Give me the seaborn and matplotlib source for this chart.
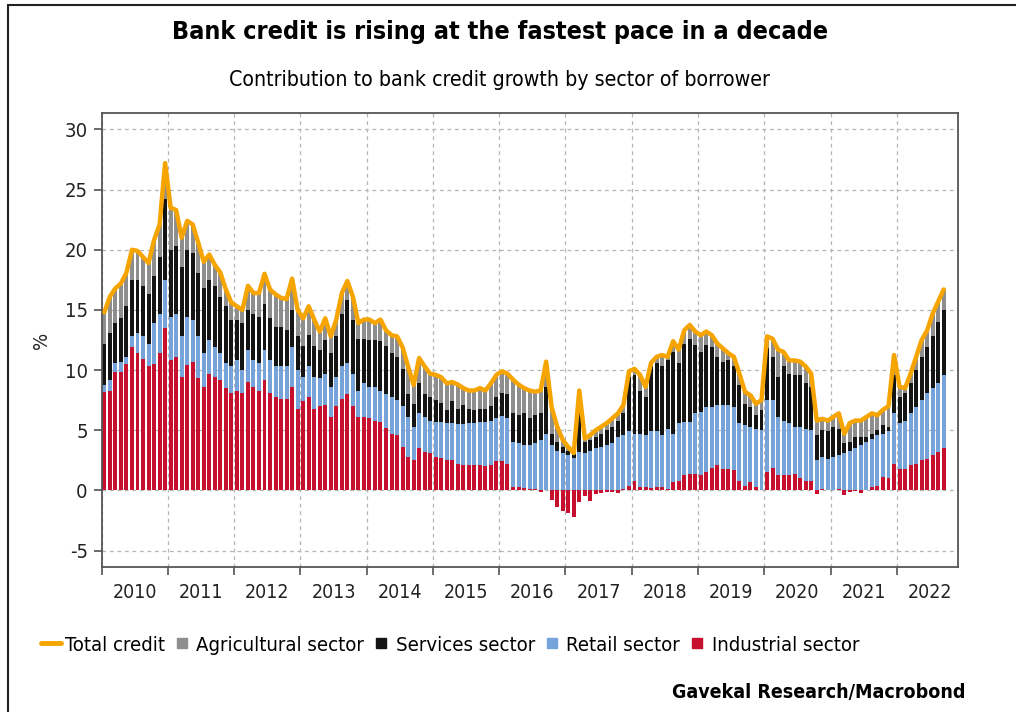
import numpy as np
import matplotlib.pyplot as plt
import seaborn as sns
from matplotlib.lines import Line2D

# monthly values, Jan 2010 .. Sep 2022, one row per year
years = list(range(2010, 2023))

total_credit = [
    14.8, 16.1, 16.8, 17.2, 18.1, 20.0, 19.9, 19.4, 18.9, 20.8, 22.1, 27.2,
    23.5, 23.3, 21.0, 22.4, 22.1, 20.6, 19.0, 19.6, 18.75, 18.1, 16.7, 15.6,
    15.3, 15.0, 17.0, 16.4, 16.4, 18.0, 16.7, 16.3, 16.0, 15.9, 17.6, 15.0,
    14.3, 15.3, 14.2, 13.2, 14.3, 12.8, 14.2, 16.4, 17.4, 16.1, 13.9, 14.2,
    14.2, 13.9, 14.2, 13.3, 12.9, 12.8, 11.9, 10.3, 8.75, 11.0, 10.3, 9.7,
    9.6, 9.4, 8.9, 9.0, 8.8, 8.5, 8.3, 8.3, 8.5, 8.3, 8.9, 9.6,
    9.9, 9.7, 9.2, 8.8, 8.5, 8.3, 8.2, 8.3, 10.7, 6.9, 5.3, 4.2,
    3.6, 3.1, 8.3, 4.3, 4.6, 5.0, 5.3, 5.6, 6.0, 6.4, 7.1, 9.9,
    10.1, 9.6, 8.6, 10.6, 11.1, 11.25, 11.1, 12.4, 11.7, 13.3, 13.75, 13.2,
    12.9, 13.2, 12.9, 12.2, 11.8, 11.4, 11.1, 9.7, 8.2, 7.9, 7.2, 7.5,
    12.8, 12.6, 11.7, 11.5, 10.8, 10.8, 10.7, 10.3, 9.7, 5.8, 5.95, 5.8,
    6.1, 6.4, 4.7, 5.6, 5.8, 5.8, 6.1, 6.4, 6.25, 6.7, 7.0, 11.25,
    8.6, 8.5, 9.7, 11.1, 12.5, 13.3, 14.7, 15.7, 16.7,
]

# top of the services layer (industrial + retail + services)
services_top = [
    12.2, 13.1, 13.9, 14.3, 15.3, 17.5, 17.5, 17.0, 16.3, 17.8, 19.4, 24.2,
    20.0, 20.3, 18.6, 20.0, 19.7, 18.1, 16.8, 17.5, 17.0, 16.1, 15.3, 14.2,
    14.2, 13.9, 15.0, 14.7, 14.4, 15.5, 14.3, 13.6, 13.6, 13.3, 15.0, 12.8,
    12.0, 12.9, 12.0, 11.7, 12.5, 11.4, 12.8, 14.7, 15.8, 14.2, 12.6, 12.6,
    12.5, 12.5, 12.4, 12.0, 11.4, 11.1, 10.1, 8.0, 7.2, 8.9, 8.0, 7.8,
    7.5, 7.3, 6.7, 7.4, 6.8, 7.1, 6.8, 6.7, 6.8, 6.8, 7.0, 7.8,
    8.1, 8.0, 6.4, 6.3, 6.4, 6.0, 6.3, 6.4, 8.6, 4.7, 4.0, 3.6,
    3.3, 3.0, 7.8, 4.0, 4.2, 4.4, 4.7, 5.0, 5.3, 5.8, 6.4, 9.4,
    9.6, 8.3, 7.8, 10.3, 10.6, 10.3, 10.8, 11.5, 10.6, 12.2, 12.6, 12.1,
    11.5, 12.1, 11.9, 11.1, 10.7, 10.8, 10.3, 8.75, 7.2, 6.9, 6.25, 6.7,
    11.8, 11.1, 9.4, 10.3, 9.7, 9.6, 9.6, 8.9, 8.6, 4.6, 5.0, 4.9,
    5.3, 5.1, 3.9, 4.0, 4.4, 4.4, 4.4, 4.7, 5.0, 5.4, 5.3, 9.6,
    7.8, 8.1, 8.9, 10.0, 11.1, 11.9, 12.8, 14.0, 15.0,
]

# top of the retail layer (industrial + retail, retail starts at 0 when industrial < 0)
retail_top = [
    8.75, 9.2, 10.6, 10.7, 11.1, 12.8, 13.1, 12.8, 12.2, 13.9, 14.7, 17.5,
    14.4, 14.7, 12.8, 14.4, 14.2, 12.8, 11.4, 12.5, 11.9, 11.4, 10.6, 10.3,
    10.8, 10.0, 11.7, 10.8, 10.6, 11.7, 10.8, 10.3, 10.3, 10.3, 11.9, 10.0,
    9.4, 10.3, 9.4, 9.3, 9.7, 8.6, 9.4, 10.3, 10.6, 9.7, 8.3, 8.9,
    8.6, 8.6, 8.3, 8.0, 7.8, 7.5, 7.0, 6.1, 5.3, 6.4, 6.1, 5.8,
    5.7, 5.7, 5.6, 5.6, 5.5, 5.5, 5.6, 5.6, 5.7, 5.7, 5.8, 6.0,
    6.2, 6.0, 4.0, 3.9, 3.75, 3.75, 3.9, 4.2, 4.7, 3.75, 3.3, 3.1,
    2.9, 2.7, 3.2, 3.1, 3.3, 3.5, 3.6, 3.75, 3.9, 4.4, 4.6, 4.9,
    4.7, 4.7, 4.6, 4.9, 4.9, 4.6, 5.1, 4.7, 5.6, 5.7, 5.7, 6.4,
    6.5, 6.9, 6.9, 7.1, 7.1, 7.1, 6.9, 5.6, 5.4, 5.3, 5.1, 5.0,
    7.5, 7.5, 6.1, 5.8, 5.6, 5.3, 5.3, 5.1, 5.0, 2.5, 2.8, 2.6,
    2.8, 2.9, 3.1, 3.3, 3.5, 3.75, 4.0, 4.3, 4.6, 4.7, 4.9, 6.4,
    5.6, 5.8, 6.4, 6.9, 7.5, 8.1, 8.5, 8.9, 9.6,
]

industrial = [
    8.2, 8.3, 9.8, 9.8, 10.5, 11.9, 11.4, 10.9, 10.3, 10.5, 11.4, 13.5,
    10.8, 11.1, 9.4, 10.4, 10.7, 9.3, 8.6, 9.7, 9.4, 9.2, 8.5, 8.1,
    8.3, 8.1, 9.0, 8.6, 8.3, 9.2, 8.1, 7.8, 7.6, 7.6, 8.6, 6.8,
    7.4, 7.8, 6.8, 7.0, 7.1, 6.1, 7.0, 7.6, 8.0, 7.0, 6.1, 6.1,
    6.0, 5.8, 5.7, 5.2, 4.7, 4.6, 3.6, 2.8, 2.5, 3.5, 3.2, 3.1,
    2.8, 2.7, 2.5, 2.5, 2.2, 2.1, 2.1, 2.1, 2.1, 2.0, 2.1, 2.4,
    2.4, 2.2, 0.3, 0.3, 0.2, 0.1, 0.1, -0.1, 0.0, -0.8, -1.4, -1.7,
    -1.9, -2.2, -1.0, -0.5, -0.9, -0.3, -0.2, -0.1, -0.1, -0.2, 0.1, 0.4,
    0.8, 0.3, 0.3, 0.2, 0.3, 0.3, 0.1, 0.7, 0.8, 1.25, 1.4, 1.4,
    1.25, 1.5, 1.9, 2.1, 1.8, 1.8, 1.7, 0.8, 0.4, 0.7, 0.3, 0.0,
    1.5, 1.9, 1.25, 1.25, 1.25, 1.4, 1.0, 0.8, 0.8, -0.3, 0.1, 0.05,
    0.05, 0.1, -0.4, -0.1, -0.05, -0.2, 0.05, 0.3, 0.4, 1.1, 1.0, 2.2,
    1.8, 1.8, 2.1, 2.2, 2.5, 2.6, 2.9, 3.2, 3.55,
]

c_total = "#f5a400"
c_agri = "#8e8e8e"
c_serv = "#141414"
c_retail = "#76a3da"
c_ind = "#c6102e"

sns.set_theme(style="white")
plt.rcParams['font.family'] = ['DejaVu Sans']
plt.rcParams['font.stretch'] = 'condensed'
plt.rcParams['axes.unicode_minus'] = False
plt.rcParams['text.color'] = 'black'
plt.rcParams['xtick.color'] = '#222222'
plt.rcParams['ytick.color'] = '#222222'

months = np.arange(len(total_credit))
agri_top = np.maximum(np.array(total_credit), np.array(services_top) + 0.3)

fig = plt.figure(figsize=(10.16, 7.12), dpi=100)
ax = fig.add_axes([0.1, 0.204, 0.843, 0.637])

w = 0.72
ax.bar(months, agri_top, width=w, color=c_agri, linewidth=0, zorder=2)
ax.bar(months, services_top, width=w, color=c_serv, linewidth=0, zorder=2)
ax.bar(months, retail_top, width=w, color=c_retail, linewidth=0, zorder=2)
ax.bar(months, industrial, width=w, color=c_ind, linewidth=0, zorder=2)
sns.lineplot(x=months, y=total_credit, color=c_total, linewidth=3.2, ax=ax, zorder=3)

ax.set_xlim(-0.5, 154.6)
ax.set_ylim(-6.35, 31.35)

# year boundaries as major ticks, labels in the middle of each year
ax.set_xticks([12 * i - 0.5 for i in range(len(years))])
ax.set_xticklabels([])
ax.set_xticks([12 * i + 5.5 for i in range(len(years))], minor=True)
ax.set_xticklabels([str(y) for y in years], minor=True, fontsize=14)
ax.tick_params(axis='x', which='major', direction='out', length=6, width=1.1, color='#444444', bottom=True)
ax.tick_params(axis='x', which='minor', length=0, pad=12)
ax.set_yticks(range(-5, 31, 5))
ax.tick_params(axis='y', direction='out', length=6, width=1.1, color='#444444', labelsize=14.5, pad=4, left=True)

ax.grid(True, which='major', linestyle=(0, (3, 3)), color='#b5b5b5', linewidth=0.9)
ax.set_axisbelow(True)
for s in ax.spines.values():
    s.set_color('#555555')
    s.set_linewidth(1.3)

ax.set_ylabel('%', fontsize=14.5, labelpad=10)

fig.text(0.492, 0.955, 'Bank credit is rising at the fastest pace in a decade',
         ha='center', va='center', fontsize=18, fontweight='bold')
fig.text(0.492, 0.887, 'Contribution to bank credit growth by sector of borrower',
         ha='center', va='center', fontsize=15.3)

handles = [
    Line2D([], [], color=c_total, linewidth=3.5),
    Line2D([], [], color=c_agri, marker='s', linestyle='none', markersize=7),
    Line2D([], [], color=c_serv, marker='s', linestyle='none', markersize=7),
    Line2D([], [], color=c_retail, marker='s', linestyle='none', markersize=7),
    Line2D([], [], color=c_ind, marker='s', linestyle='none', markersize=7),
]
labels = ['Total credit', 'Agricultural sector', 'Services sector', 'Retail sector', 'Industrial sector']
fig.legend(handles, labels, loc='center left', bbox_to_anchor=(0.022, 0.094), ncol=5,
           frameon=False, fontsize=14.6, handlelength=1.0, handletextpad=0.2, columnspacing=0.35)

fig.text(0.95, 0.028, 'Gavekal Research/Macrobond', ha='right', va='center',
         fontsize=14, fontweight='bold')

# outer frame lines (left and top)
fig.add_artist(Line2D([0.008, 0.008], [0, 0.993], transform=fig.transFigure, color='#222222', linewidth=1.5))
fig.add_artist(Line2D([0.008, 1.0], [0.993, 0.993], transform=fig.transFigure, color='#222222', linewidth=1.5))

fig.savefig('out.png', dpi=100)
